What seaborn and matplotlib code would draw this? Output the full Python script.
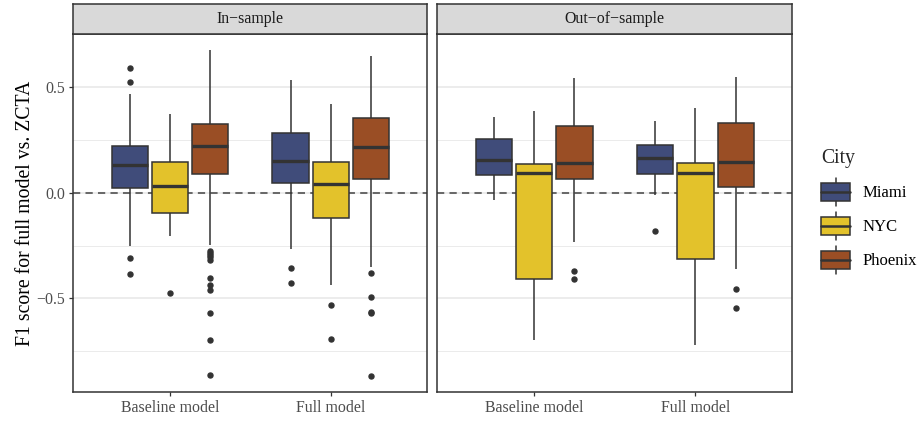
import numpy as np
import pandas as pd
import matplotlib
matplotlib.use("Agg")
import matplotlib.pyplot as plt
import seaborn as sns
from matplotlib.patches import Rectangle, Patch
from matplotlib.lines import Line2D
from matplotlib.legend_handler import HandlerBase

# ---------------- data ----------------
samples = ["In\u2212sample", "Out\u2212of\u2212sample"]
models = ["Baseline model", "Full model"]
cities = ["Miami", "NYC", "Phoenix"]
city_colors = ["#404C7A", "#E3C22B", "#9A4E25"]

# group order: sample -> model -> city
whisker_low = [-0.254, -0.207, -0.249, -0.265, -0.435, -0.353,
               -0.036, -0.697, -0.233, -0.011, -0.723, -0.361]
q1 = [0.022, -0.096, 0.088, 0.044, -0.120, 0.065,
      0.084, -0.410, 0.065, 0.091, -0.314, 0.025]
median = [0.132, 0.033, 0.222, 0.150, 0.043, 0.215,
          0.156, 0.096, 0.140, 0.164, 0.093, 0.148]
q3 = [0.222, 0.145, 0.328, 0.281, 0.148, 0.353,
      0.257, 0.134, 0.316, 0.227, 0.142, 0.330]
whisker_high = [0.470, 0.372, 0.675, 0.533, 0.420, 0.650,
                0.361, 0.388, 0.543, 0.342, 0.401, 0.549]
outliers = [
    [0.590, 0.527, -0.311, -0.383],
    [-0.475],
    [-0.278, -0.286, -0.297, -0.304, -0.317, -0.406, -0.437, -0.459, -0.571, -0.696, -0.861],
    [-0.357, -0.426],
    [-0.530, -0.691],
    [-0.380, -0.495, -0.565, -0.571, -0.868],
    [],
    [],
    [-0.369, -0.410],
    [-0.181],
    [],
    [-0.458, -0.546],
]


def sample_points(lo, a, m, b, hi, outs):
    """Value set whose quartiles / whiskers / outliers equal the read values."""
    low = sorted([o for o in outs if o < a] + [lo])
    high = sorted([hi] + [o for o in outs if o > b])
    k = max(len(low), len(high), 2)
    low = low + [lo] * (k - len(low))
    high = [hi] * (k - len(high)) + high
    return low + [a] + [a] * (k - 1) + [m] + [m] * (k - 1) + [b] + high


rows = []
g = 0
for s in samples:
    for mo in models:
        for c in cities:
            vals = sample_points(whisker_low[g], q1[g], median[g], q3[g],
                                 whisker_high[g], outliers[g])
            rows += [(s, mo, c, v) for v in vals]
            g += 1
df = pd.DataFrame(rows, columns=["Sample", "Model", "City", "F1"])

# ---------------- style ----------------
sns.set_theme(style="white")
plt.rcParams["font.family"] = ["Liberation Serif", "DejaVu Serif"]
plt.rcParams["axes.unicode_minus"] = True

W, H = 922, 421
fig = plt.figure(figsize=(W / 100, H / 100), dpi=100)

dark = "#333333"
tick_fs = 11.4
title_fs = 14.2

panels = [(73.3, 427.3), (437.3, 792.3)]
p_top, p_bot, s_top = 34.0, 392.3, 3.7

for i, (s, (x0, x1)) in enumerate(zip(samples, panels)):
    ax = fig.add_axes([x0 / W, 1 - p_bot / H, (x1 - x0) / W, (p_bot - p_top) / H])
    sub = df[df["Sample"] == s]
    ax.axhline(0, color="#6A6A6A", lw=1.45, ls=(0, (3.6, 2.6)), zorder=1.5)
    sns.boxplot(data=sub, x="Model", y="F1", hue="City", order=models,
                hue_order=cities, palette=city_colors, width=0.75, gap=0.1,
                linecolor=dark, linewidth=1.1, showcaps=False, legend=False,
                saturation=1, ax=ax,
                medianprops=dict(color=dark, linewidth=2.4),
                flierprops=dict(marker="o", markerfacecolor=dark,
                                markeredgecolor=dark, markersize=3.6))
    ax.set_xlim(-0.6, 1.6)
    ax.set_ylim(-0.945, 0.752)
    ax.set_yticks([-0.5, 0.0, 0.5])
    ax.set_yticks([-0.75, -0.25, 0.25, 0.75], minor=True)
    ax.set_yticklabels(["\u22120.5", "0.0", "0.5"])
    ax.grid(False)
    ax.yaxis.grid(True, which="major", color="#EBEBEB", lw=1.3)
    ax.yaxis.grid(True, which="minor", color="#EBEBEB", lw=0.7)
    ax.set_axisbelow(True)
    for sp in ax.spines.values():
        sp.set_color(dark)
        sp.set_linewidth(1.1)
        sp.set_visible(True)
    ax.tick_params(axis="both", which="major", length=3.2, width=0.9,
                   color=dark, labelcolor="#4D4D4D", labelsize=tick_fs, pad=2.5,
                   left=True, bottom=True)
    ax.tick_params(axis="y", which="minor", length=0)
    ax.set_xlabel("")
    if i == 0:
        ax.set_ylabel("F1 score for full model vs. ZCTA", fontsize=title_fs,
                      color="black", labelpad=1.5)
    else:
        ax.set_ylabel("")
        ax.tick_params(axis="y", left=False, labelleft=False)

    sax = fig.add_axes([x0 / W, 1 - p_top / H, (x1 - x0) / W, (p_top - s_top) / H])
    sax.set_facecolor("#D9D9D9")
    sax.set_xticks([])
    sax.set_yticks([])
    for sp in sax.spines.values():
        sp.set_color(dark)
        sp.set_linewidth(1.1)
        sp.set_visible(True)
    sax.text(0.5, 0.48, s, ha="center", va="center", fontsize=tick_fs,
             color="#1A1A1A", transform=sax.transAxes)


class BoxKeyHandler(HandlerBase):
    def create_artists(self, legend, orig_handle, xdescent, ydescent, width,
                       height, fontsize, trans):
        fc = orig_handle.get_facecolor()
        x0 = -xdescent
        y0 = -ydescent
        cx = x0 + width / 2
        bh = height * 0.64
        by = y0 + (height - bh) / 2
        w1 = Line2D([cx, cx], [y0, by], color=dark, lw=1.1, transform=trans)
        w2 = Line2D([cx, cx], [by + bh, y0 + height], color=dark, lw=1.1,
                    transform=trans)
        rect = Rectangle((x0, by), width, bh, facecolor=fc, edgecolor=dark,
                         lw=1.1, transform=trans)
        med = Line2D([x0, x0 + width], [y0 + height / 2] * 2, color=dark,
                     lw=1.8, transform=trans)
        return [w1, w2, rect, med]


handles = [Patch(facecolor=c) for c in city_colors]
leg = fig.legend(handles, cities, title="City", loc="upper left",
                 bbox_to_anchor=(821.0 / W, 1 - 149.5 / H), frameon=False,
                 fontsize=12.0, title_fontsize=title_fs,
                 handler_map={Patch: BoxKeyHandler()},
                 handlelength=1.75, handleheight=2.2, labelspacing=0.36,
                 handletextpad=0.75, borderpad=0, borderaxespad=0,
                 alignment="left")
leg._legend_box.sep = 7
for t in leg.get_texts():
    t.set_color("black")

fig.savefig("out.png", dpi=100)
